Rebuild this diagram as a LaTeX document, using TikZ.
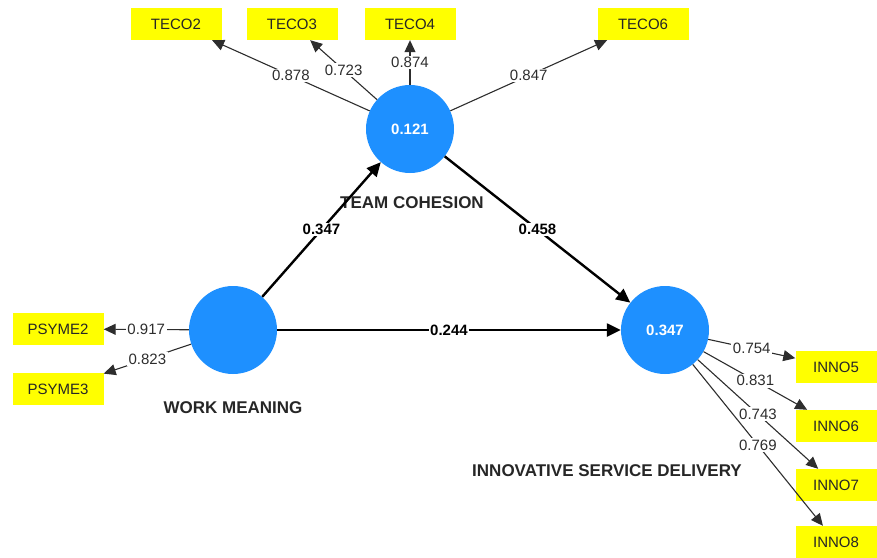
\documentclass[tikz,border=0pt]{standalone}
\usepackage{fontspec}
\setmainfont{Liberation Sans}
\usetikzlibrary{arrows.meta}
\definecolor{lvblue}{RGB}{30,144,255}
\definecolor{mvyellow}{RGB}{255,255,0}
\definecolor{ldgray}{RGB}{45,45,45}
\tikzset{
  latent/.style={circle, fill=lvblue, minimum size=88pt, inner sep=0pt, text=white, font=\fontsize{15}{17}\selectfont\bfseries},
  indicator/.style={fill=mvyellow, minimum width=91pt, minimum height=32pt, inner sep=0pt, text=black!85, font=\fontsize{15}{17}\selectfont},
  inditem/.style={fill=mvyellow, minimum width=81pt, minimum height=32pt, inner sep=0pt, text=black!85, font=\fontsize{15}{17}\selectfont},
  loading/.style={draw=ldgray, line width=1.1pt, -{Triangle[length=12pt,width=11pt]}},
  loadlbl/.style={fill=white, inner sep=1.5pt, text=ldgray, font=\fontsize{15}{17}\selectfont},
  pathcoef/.style={draw=black, line width=2.4pt, -{Triangle[length=14pt,width=13pt]}},
  pathlbl/.style={fill=white, inner sep=1.5pt, font=\fontsize{15}{17}\selectfont\bfseries},
  lvname/.style={font=\fontsize{17}{19}\selectfont\bfseries, text=black!85},
}
\begin{document}
\begin{tikzpicture}[x=1pt,y=-1pt]
\useasboundingbox (0,0) rectangle (877,557);
% latent variables
\node[latent] (tc) at (410,129) {0.121};
\node[latent] (wm) at (233,330) {};
\node[latent] (isd) at (665,330) {0.347};
% names
\node[lvname] (tcname) at (412,203) {TEAM COHESION};
\node[lvname] (wmname) at (233,408) {WORK MEANING};
\node[lvname] (isdname) at (607,471) {INNOVATIVE SERVICE DELIVERY};
% indicators
\node[indicator] (teco2) at (176,24) {TECO2};
\node[indicator] (teco3) at (292,24) {TECO3};
\node[indicator] (teco4) at (410,24) {TECO4};
\node[indicator] (teco6) at (643,24) {TECO6};
\node[indicator] (psyme2) at (58,329) {PSYME2};
\node[indicator] (psyme3) at (58,389) {PSYME3};
\node[inditem] (inno5) at (836,367) {INNO5};
\node[inditem] (inno6) at (836,426) {INNO6};
\node[inditem] (inno7) at (836,485) {INNO7};
\node[inditem] (inno8) at (836,542) {INNO8};
% loadings
\draw[loading] (tc) -- node[loadlbl] {0.878} (teco2);
\draw[loading] (tc) -- node[loadlbl] {0.723} (teco3);
\draw[loading] (tc) -- node[loadlbl] {0.874} (teco4);
\draw[loading] (tc) -- node[loadlbl] {0.847} (teco6);
\draw[loading] (wm) -- node[loadlbl] {0.917} (psyme2);
\draw[loading] (wm) -- node[loadlbl] {0.823} (psyme3);
\draw[loading] (isd) -- node[loadlbl] {0.754} (inno5);
\draw[loading] (isd) -- node[loadlbl] {0.831} (inno6);
\draw[loading] (isd) -- node[loadlbl] {0.743} (inno7);
\draw[loading] (isd) -- node[loadlbl] {0.769} (inno8);
% paths
\draw[pathcoef] (wm) -- node[pathlbl] {0.347} (tc);
\draw[pathcoef] (tc) -- node[pathlbl] {0.458} (isd);
\draw[pathcoef] (wm) -- node[pathlbl] {0.244} (isd);
\end{tikzpicture}
\end{document}
